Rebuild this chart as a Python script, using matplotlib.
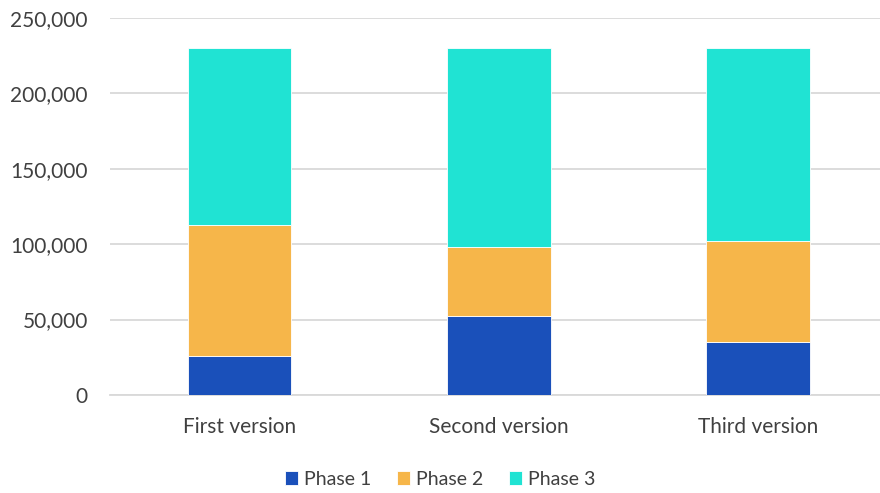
import matplotlib.pyplot as plt
from matplotlib.ticker import FuncFormatter

plt.rcParams['font.family'] = ['Lato', 'DejaVu Sans']

# データ
categories = ['First version', 'Second version', 'Third version']
phase1 = [26000, 52000, 35000]
phase2 = [87000, 46000, 67000]
phase3 = [117000, 132000, 128000]
series_names = ['Phase 1', 'Phase 2', 'Phase 3']
colors = ['#1A50BA', '#F6B64A', '#20E3D3']

fig = plt.figure(figsize=(8.8, 4.93), dpi=100)
ax = fig.add_axes([0.125, 0.199, 0.875, 0.7645])

x = range(len(categories))
bottom = [0, 0, 0]
for vals, name, c in zip([phase1, phase2, phase3], series_names, colors):
    ax.bar(x, vals, width=0.4, bottom=bottom, color=c, label=name,
           edgecolor='white', linewidth=0.6, zorder=3)
    bottom = [b + v for b, v in zip(bottom, vals)]

ax.set_ylim(0, 250000)
ax.set_xlim(-0.5, 2.47)
ax.set_yticks(range(0, 250001, 50000))
ax.yaxis.set_major_formatter(FuncFormatter(lambda v, p: f'{int(v):,}'))
ax.set_xticks(list(x))
ax.set_xticklabels(categories)

ax.grid(axis='y', color='#D9D9D9', linewidth=1.3, zorder=0)
for s in ['top', 'right', 'left']:
    ax.spines[s].set_visible(False)
ax.spines['bottom'].set_color('#D9D9D9')
ax.spines['bottom'].set_linewidth(1.3)
ax.tick_params(axis='both', length=0, labelsize=15, labelcolor='#404040')
ax.tick_params(axis='y', pad=16)
ax.tick_params(axis='x', pad=16)

fig.legend(loc='lower center', bbox_to_anchor=(0.5, -0.025), ncol=3, frameon=False,
           fontsize=14, labelcolor='#404040', handlelength=0.7, handleheight=0.7,
           handletextpad=0.3, columnspacing=1.3)

plt.savefig('out.png', dpi=100)
